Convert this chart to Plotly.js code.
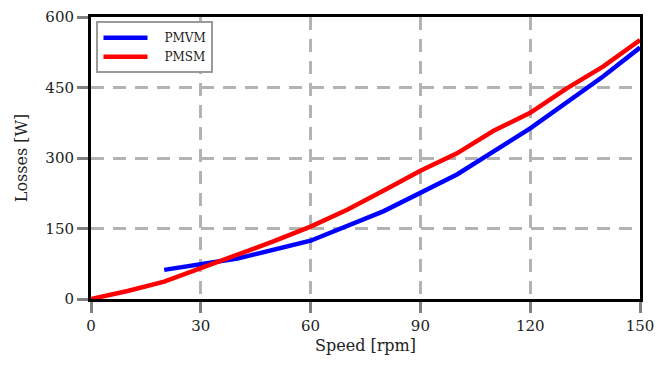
<!DOCTYPE html>
<html>
<head>
<meta charset="utf-8">
<script src="https://cdn.plot.ly/plotly-3.0.1.min.js"></script>
<style>
  html, body { margin: 0; padding: 0; background: #fff; }
  #chart { width: 670px; height: 365px; }
</style>
</head>
<body>
<div id="chart"></div>
<script>
// Loss curves versus rotor speed
const pmvmSpeed = [20, 40, 60, 80, 100, 120, 140, 150];
const pmvmLoss  = [62, 86, 124, 187, 265, 363, 474, 535];

const pmsmSpeed = [0, 10, 20, 30, 40, 50, 60, 70, 80, 90, 100, 110, 120, 130, 140, 150];
const pmsmLoss  = [0, 17, 37, 65, 93, 123, 154, 190, 231, 273, 310, 358, 396, 448, 495, 551];

const seriesNames = ["PMVM", "PMSM"];

const xTicks = [0, 30, 60, 90, 120, 150];
const yTicks = [0, 150, 300, 450, 600];

const serif = "DejaVu Serif, serif";
// small gap between the legend line sample and its label
const pad = "\u2002\u2002";

const traces = [
  { x: pmvmSpeed, y: pmvmLoss, name: pad + seriesNames[0], mode: "lines",
    line: { color: "#0000ff", width: 4.5 } },
  { x: pmsmSpeed, y: pmsmLoss, name: pad + seriesNames[1], mode: "lines",
    line: { color: "#ff0000", width: 4.5 } }
];

const axisCommon = {
  showline: true, mirror: true, linecolor: "#000", linewidth: 3,
  showgrid: true, gridcolor: "#b3b3b3", gridwidth: 3, griddash: "13px,9px",
  zeroline: false,
  ticks: "outside", ticklen: 11, tickwidth: 3, tickcolor: "#808080",
  tickfont: { family: serif, size: 15, color: "#222" }
};

const layout = {
  width: 670, height: 365,
  margin: { l: 91, r: 30, t: 17, b: 66 },
  paper_bgcolor: "#fff", plot_bgcolor: "#fff",
  showlegend: true,
  legend: {
    x: 0.01, y: 0.985, xanchor: "left", yanchor: "top",
    bgcolor: "#fff", bordercolor: "#9a9a9a", borderwidth: 2,
    font: { family: serif, size: 12, color: "#222" },
    itemwidth: 44,
    tracegroupgap: 0
  },
  xaxis: Object.assign({}, axisCommon, {
    range: [0, 150], tickvals: xTicks, ticktext: xTicks.map(String),
    title: { text: "Speed [rpm]", font: { family: serif, size: 16, color: "#222" }, standoff: 6 }
  }),
  yaxis: Object.assign({}, axisCommon, {
    range: [0, 600], tickvals: yTicks, ticktext: yTicks.map(String),
    title: { text: "Losses [W]", font: { family: serif, size: 16, color: "#222" }, standoff: 14 }
  })
};

Plotly.newPlot("chart", traces, layout, { displayModeBar: false, staticPlot: true });
</script>
</body>
</html>
